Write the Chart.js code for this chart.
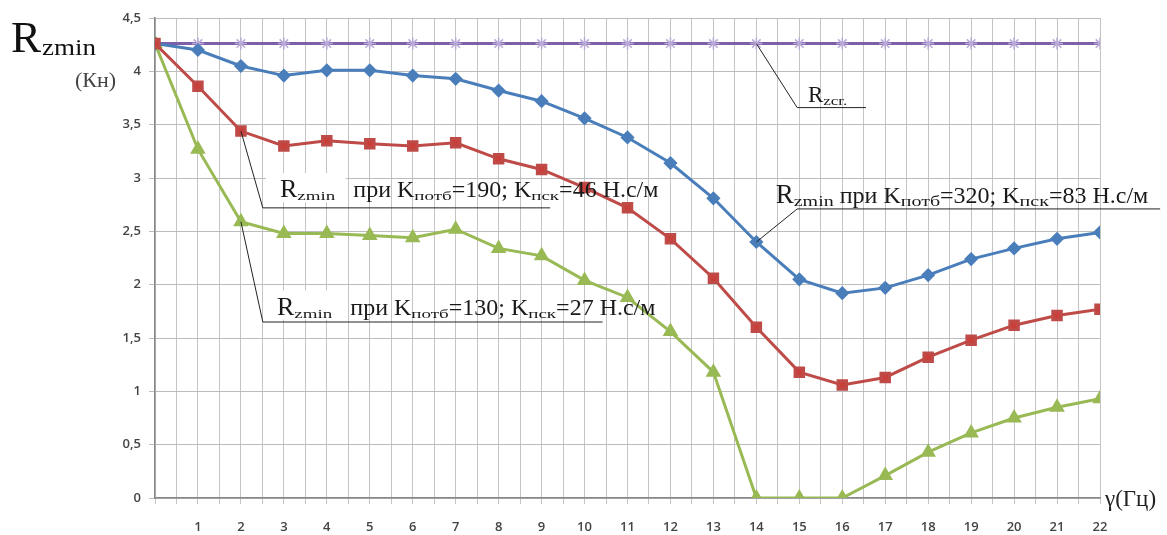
<!DOCTYPE html>
<html>
<head>
<meta charset="utf-8">
<script src="https://cdn.jsdelivr.net/npm/chart.js@4.4.0/dist/chart.umd.min.js"></script>
<style>
  html, body { margin: 0; padding: 0; background: #fff; }
  .chart-container { width: 1167px; height: 535px; position: relative; }
</style>
</head>
<body>
<div class="chart-container">
    <canvas id="rzminChart"></canvas>
</div>

<script>
// frequency, Гц
const freq = [0, 1, 2, 3, 4, 5, 6, 7, 8, 9, 10, 11, 12, 13, 14, 15, 16, 17, 18, 19, 20, 21, 22];

// Rzmin, Кн
const rz320 = [4.26, 4.2, 4.05, 3.96, 4.01, 4.01, 3.96, 3.93, 3.82, 3.72, 3.56, 3.38, 3.14, 2.81, 2.4, 2.05, 1.92, 1.97, 2.09, 2.24, 2.34, 2.43, 2.49];
const rz190 = [4.26, 3.86, 3.44, 3.3, 3.35, 3.32, 3.3, 3.33, 3.18, 3.08, 2.91, 2.72, 2.43, 2.06, 1.6, 1.18, 1.06, 1.13, 1.32, 1.48, 1.62, 1.71, 1.77];
const rz130 = [4.26, 3.27, 2.59, 2.48, 2.48, 2.46, 2.44, 2.52, 2.34, 2.27, 2.04, 1.88, 1.56, 1.18, 0, 0, 0, 0.21, 0.43, 0.61, 0.75, 0.85, 0.93];
const rzcr  = [4.26, 4.26, 4.26, 4.26, 4.26, 4.26, 4.26, 4.26, 4.26, 4.26, 4.26, 4.26, 4.26, 4.26, 4.26, 4.26, 4.26, 4.26, 4.26, 4.26, 4.26, 4.26, 4.26];

const toPoints = (ys) => ys.map((y, i) => ({ x: freq[i], y: y }));

// annotation callouts, positions in data units
const callouts = [
    { dataset: 3, index: 14, elbow: [14.95, 3.66], end: [16.55, 3.66], text: [15.2, 3.71],
      parts: [['R', 23], ['zcr.', 17, true]], box: false },
    { dataset: 1, index: 2, elbow: [2.51, 2.72], end: [9.2, 2.72], text: [2.91, 2.82],
      parts: [['R', 26], ['zmin', 19, true], ['   при K', 24], ['потб', 19, true], ['=190; K', 24], ['пск', 19, true], ['=46 Н.с/м', 24]], box: true },
    { dataset: 2, index: 2, elbow: [2.51, 1.65], end: [10.42, 1.65], text: [2.84, 1.72],
      parts: [['R', 26], ['zmin', 19, true], ['   при K', 24], ['потб', 19, true], ['=130; K', 24], ['пск', 19, true], ['=27 Н.с/м', 24]], box: true },
    { dataset: 0, index: 14, elbow: [14.95, 2.71], end: [23.4, 2.71], text: [14.45, 2.77],
      parts: [['R', 27], ['zmin', 20, true], [' при K', 24], ['потб', 20, true], ['=320; K', 24], ['пск', 20, true], ['=83 Н.с/м', 24]], box: false }
];

const serif = '"Liberation Serif", "DejaVu Serif", serif';

function drawParts(ctx, parts, x, y) {
    parts.forEach(([s, size, sub]) => {
        ctx.font = size + 'px ' + serif;
        if (sub) {
            ctx.save();
            ctx.translate(x, y + 3);
            ctx.scale(1, 0.7);
            ctx.fillText(s, 0, 0);
            ctx.restore();
        } else {
            ctx.fillText(s, x, y);
        }
        x += ctx.measureText(s).width;
    });
}

const calloutPlugin = {
    id: 'callouts',
    afterDatasetsDraw(chart) {
        const ctx = chart.ctx;
        const xs = chart.scales.x, ys = chart.scales.y;
        ctx.save();
        callouts.forEach(c => {
            const pt = chart.getDatasetMeta(c.dataset).data[c.index];
            const ex = xs.getPixelForValue(c.elbow[0]), ey = ys.getPixelForValue(c.elbow[1]);
            const nx = xs.getPixelForValue(c.end[0]);
            const tx = xs.getPixelForValue(c.text[0]), ty = ys.getPixelForValue(c.text[1]);

            if (c.box) {
                ctx.fillStyle = '#fff';
                ctx.fillRect(ex + 3, ty - 24, 80, 29);
            }
            ctx.strokeStyle = '#222';
            ctx.lineWidth = 1;
            ctx.beginPath();
            ctx.moveTo(pt.x, pt.y);
            ctx.lineTo(ex, ey);
            ctx.lineTo(nx, ey);
            ctx.stroke();

            ctx.fillStyle = '#1a1a1a';
            ctx.textBaseline = 'alphabetic';
            drawParts(ctx, c.parts, tx, ty);
        });

        // axis titles
        ctx.fillStyle = '#111';
        drawParts(ctx, [['R', 45]], 11, 52);
        ctx.font = '27px ' + serif;
        ctx.save();
        ctx.translate(42, 55);
        ctx.scale(1, 0.85);
        ctx.fillText('zmin', 0, 0);
        ctx.restore();

        ctx.fillStyle = '#444';
        ctx.font = '22px ' + serif;
        ctx.fillText('(Кн)', 75, 87);

        ctx.fillStyle = '#222';
        ctx.font = '23px ' + serif;
        ctx.fillText('γ(Гц)', xs.getPixelForValue(22) + 5, ys.getPixelForValue(0) + 8);
        ctx.restore();
    }
};

const ctx = document.getElementById('rzminChart').getContext('2d');
new Chart(ctx, {
    type: 'line',
    data: {
        datasets: [
            {
                label: 'Rzmin Kпотб=320',
                data: toPoints(rz320),
                borderColor: '#4a7ebb',
                backgroundColor: '#4a7ebb',
                borderWidth: 3,
                pointStyle: 'rectRot',
                pointRadius: 5,
                order: 2
            },
            {
                label: 'Rzmin Kпотб=190',
                data: toPoints(rz190),
                borderColor: '#be4b48',
                backgroundColor: '#c9403b',
                borderWidth: 3,
                pointStyle: 'rect',
                pointRadius: 6,
                order: 1
            },
            {
                label: 'Rzmin Kпотб=130',
                data: toPoints(rz130),
                borderColor: '#98b954',
                backgroundColor: '#98b954',
                borderWidth: 3,
                pointStyle: 'triangle',
                pointRadius: 6,
                order: 3
            },
            {
                label: 'Rzcr',
                data: toPoints(rzcr),
                borderColor: '#7d60a8',
                backgroundColor: '#b9a9d8',
                pointBorderColor: '#b9a9d8',
                pointBorderWidth: 1.5,
                borderWidth: 3,
                pointStyle: 'star',
                pointRadius: 6,
                order: 4
            }
        ]
    },
    options: {
        responsive: true,
        maintainAspectRatio: false,
        animation: false,
        layout: { padding: { top: 18, right: 67, left: 0, bottom: 0 } },
        plugins: {
            legend: { display: false },
            tooltip: { enabled: false }
        },
        scales: {
            x: {
                type: 'linear',
                min: 0,
                max: 22,
                afterFit: (scale) => { scale.height = 37; },
                border: { color: '#888', width: 1.5 },
                grid: { color: '#c4c4c4', tickLength: 6 },
                ticks: {
                    stepSize: 0.5,
                    autoSkip: false,
                    maxRotation: 0,
                    padding: 15,
                    color: '#444',
                    font: { family: '"Open Sans", sans-serif', size: 13, weight: '600' },
                    callback: (v) => (Number.isInteger(v) && v > 0) ? String(v) : ''
                }
            },
            y: {
                min: 0,
                max: 4.5,
                afterFit: (scale) => { scale.width = 155; },
                border: { color: '#888', width: 1.5 },
                grid: { color: '#bcbcbc', tickLength: 6 },
                ticks: {
                    stepSize: 0.5,
                    padding: 8,
                    color: '#444',
                    font: { family: '"Open Sans", sans-serif', size: 13, weight: '600' },
                    callback: (v) => String(v).replace('.', ',')
                }
            }
        }
    },
    plugins: [calloutPlugin]
});
</script>
</body>
</html>
